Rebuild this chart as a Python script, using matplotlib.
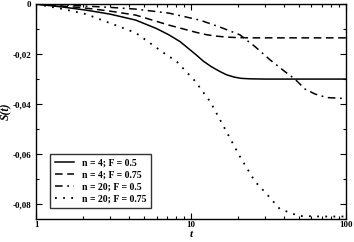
import matplotlib
matplotlib.use("Agg")
import matplotlib.pyplot as plt
from matplotlib.ticker import FixedLocator, MultipleLocator, FuncFormatter

plt.rcParams["font.family"] = "Liberation Serif"
plt.rcParams["font.weight"] = "bold"

# n = 4; F = 0.5
t_a = [1, 1.5, 2.1, 3, 4.4, 6, 7.2, 8.5, 9.6, 10.8, 12, 13.5, 15.4, 17, 19, 21, 24,
       30, 50, 100]
s_a = [0, -0.0012, -0.0024, -0.0040, -0.0064, -0.0098, -0.0123, -0.0150, -0.0177,
       -0.0203, -0.0228, -0.0250, -0.0270, -0.0283, -0.0292, -0.0297, -0.0299,
       -0.030, -0.030, -0.030]

# n = 4; F = 0.75
t_b = [1, 1.5, 2.1, 3, 4.4, 7.2, 9, 10.8, 12.5, 14.5, 17, 20, 25, 40, 100]
s_b = [0, -0.0008, -0.0016, -0.0028, -0.0044, -0.0084, -0.0100, -0.0113, -0.0122,
       -0.0128, -0.0132, -0.0134, -0.0135, -0.0135, -0.0135]

# n = 20; F = 0.5
t_c = [1, 1.5, 2.1, 3, 4.4, 7.2, 11.4, 15.4, 20.7, 25.9, 32.4, 40.4, 46.9, 54.5,
       63.3, 75.5, 100]
s_c = [0, -0.0003, -0.0008, -0.0013, -0.002, -0.0036, -0.0064, -0.0092, -0.0123,
       -0.017, -0.0223, -0.027, -0.030, -0.034, -0.036, -0.0374, -0.0378]

# n = 20; F = 0.75
t_d = [1, 1.5, 2.1, 3, 4.4, 7.2, 7.9, 10.7, 11.4, 13.3, 16.6, 20.7, 25.9, 30, 37.5,
       50, 70, 100]
s_d = [0, -0.002, -0.004, -0.0076, -0.0115, -0.021, -0.0223, -0.031, -0.0334, -0.039,
       -0.050, -0.061, -0.071, -0.0752, -0.082, -0.0848, -0.085, -0.085]

labels = ["n = 4; F = 0.5", "n = 4; F = 0.75", "n = 20; F = 0.5", "n = 20; F = 0.75"]

fig = plt.figure(figsize=(3.54, 2.42), dpi=100)
ax = fig.add_axes([0.102, 0.095, 0.875, 0.888])

ax.plot(t_a, s_a, color="black", lw=1.1, ls="-", label=labels[0])
ax.plot(t_b, s_b, color="black", lw=1.1, ls=(0, (5, 3)), label=labels[1])
ax.plot(t_c, s_c, color="black", lw=1.1, ls=(0, (5, 3, 1.2, 3)), label=labels[2])
ax.plot(t_d, s_d, color="black", lw=1.3, ls=(0, (1, 3.5)), label=labels[3])

ax.set_xscale("log")
ax.set_xlim(1, 100)
ax.set_ylim(-0.086, 0)

ax.xaxis.set_major_locator(FixedLocator([1, 10, 100]))
ax.xaxis.set_major_formatter(FuncFormatter(lambda v, p: "%g" % v))
ax.yaxis.set_major_locator(MultipleLocator(0.02))
ax.yaxis.set_minor_locator(MultipleLocator(0.01))
ax.yaxis.set_major_formatter(FuncFormatter(
    lambda v, p: "0" if abs(v) < 1e-9 else ("%.2f" % v).replace(".", ",")))

ax.tick_params(which="both", direction="in", top=True, right=True, labelsize=6.5, width=0.8)
ax.tick_params(which="major", length=4)
ax.tick_params(which="minor", length=2)
ax.tick_params(axis="x", pad=1.5)
for sp in ax.spines.values():
    sp.set_linewidth(1.0)

ax.set_xlabel("t", fontsize=8, fontstyle="italic", fontweight="bold", labelpad=0)
ax.set_ylabel("S(t)", fontsize=8.5, fontstyle="italic", fontweight="bold", labelpad=1)
ax.xaxis.set_label_coords(0.5, -0.052)
ax.yaxis.set_label_coords(-0.078, 0.5)

leg = ax.legend(loc="lower left", fontsize=7, frameon=True, fancybox=False,
                edgecolor="black", handlelength=2.0, handletextpad=0.8,
                borderpad=0.45, labelspacing=0.3, bbox_to_anchor=(0.03, 0.03))
leg.get_frame().set_linewidth(1.0)

fig.savefig("out.png", dpi=100)
